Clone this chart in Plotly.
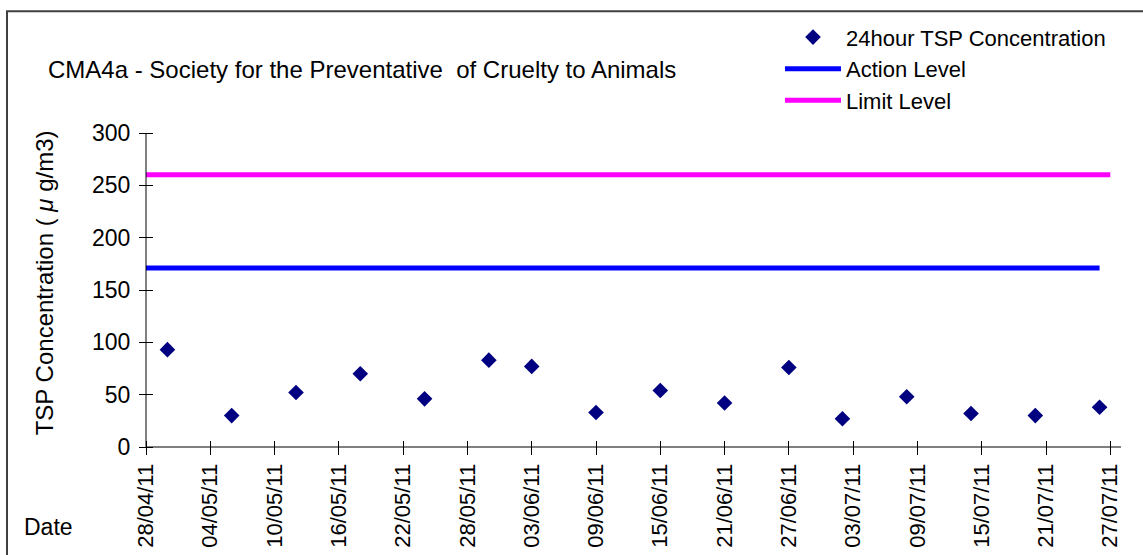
import plotly.graph_objects as go

# ---- data ----
sample_dates = ["2011-04-30", "2011-05-06", "2011-05-12", "2011-05-18", "2011-05-24",
                "2011-05-30", "2011-06-03", "2011-06-09", "2011-06-15", "2011-06-21",
                "2011-06-27", "2011-07-02", "2011-07-08", "2011-07-14", "2011-07-20",
                "2011-07-26"]
tsp_values = [93, 30, 52, 70, 46, 83, 77, 33, 54, 42, 76, 27, 48, 32, 30, 38]

action_dates = ["2011-04-28", "2011-07-26"]
action_level = [171, 171]
limit_dates = ["2011-04-28", "2011-07-27"]
limit_level = [260, 260]

title_text = "CMA4a - Society for the Preventative  of Cruelty to Animals"
y_title = "TSP Concentration ( <i>μ</i> g/m3)"
x_title = "Date"

FONT = "Liberation Sans, Arial, sans-serif"
DAY = 86400000
PLOT_W, PLOT_H = 975, 314
HALF_TICK = 7  # ticks cross the axis line: 7 px on each side

fig = go.Figure()
fig.add_trace(go.Scatter(x=sample_dates, y=tsp_values, mode="markers",
                         name="24hour TSP Concentration",
                         marker=dict(symbol="diamond", size=12, color="#000080")))
fig.add_trace(go.Scatter(x=action_dates, y=action_level, mode="lines",
                         name="Action Level", line=dict(color="#0000FF", width=5)))
fig.add_trace(go.Scatter(x=limit_dates, y=limit_level, mode="lines",
                         name="Limit Level", line=dict(color="#FF00FF", width=5)))

fig.update_layout(
    width=1143, height=555,
    margin=dict(l=146, r=22, t=133, b=108, autoexpand=False),
    paper_bgcolor="white", plot_bgcolor="white",
    font=dict(family=FONT, size=22, color="black"),
    title=dict(text=title_text, x=48 / 1143, xanchor="left", xref="container",
               y=1 - 70 / 555, yanchor="middle", yref="container",
               font=dict(family=FONT, size=24, color="black")),
    # axes drawn slightly inside so their outside ticks cross the axis lines
    xaxis=dict(type="date", range=["2011-04-28", "2011-07-28"], autorange=False,
               tickmode="linear", tick0="2011-04-28", dtick=6 * DAY,
               tickformat="%d/%m/%y", tickangle=-90, tickfont=dict(size=22),
               showgrid=False, zeroline=False, showline=False,
               ticks="outside", ticklen=2 * HALF_TICK, tickcolor="black", tickwidth=1,
               anchor="free", position=HALF_TICK / PLOT_H, automargin=False),
    yaxis=dict(range=[0, 300], autorange=False, tickmode="linear", tick0=0, dtick=50,
               tickfont=dict(size=23), ticklabelstandoff=4,
               showgrid=False, zeroline=False, showline=False,
               ticks="outside", ticklen=2 * HALF_TICK, tickcolor="black", tickwidth=1,
               anchor="free", position=HALF_TICK / PLOT_W, automargin=False),
    legend=dict(x=(780 - 146) / PLOT_W, xanchor="left", xref="paper",
                y=(446.7 - 16) / PLOT_H, yanchor="top", yref="paper",
                bgcolor="rgba(0,0,0,0)", itemwidth=56, tracegroupgap=0,
                font=dict(family=FONT, size=22, color="black")),
    showlegend=True,
    annotations=[
        dict(text=x_title, xref="paper", yref="paper", x=(22 - 146) / PLOT_W,
             y=(446.7 - 527) / PLOT_H, xanchor="left", yanchor="middle",
             showarrow=False, font=dict(family=FONT, size=23, color="black")),
        dict(text=y_title, xref="paper", yref="paper", x=(44 - 146) / PLOT_W,
             y=(446.7 - 283) / PLOT_H, xanchor="center", yanchor="middle",
             textangle=-90, showarrow=False,
             font=dict(family=FONT, size=24, color="black")),
    ],
    shapes=[
        # outer chart border
        dict(type="rect", xref="paper", yref="paper",
             x0=(7 - 146) / PLOT_W, x1=(1160 - 146) / PLOT_W,
             y0=(446.7 - 580) / PLOT_H, y1=(446.7 - 11) / PLOT_H,
             line=dict(color="#404040", width=2), fillcolor="rgba(0,0,0,0)",
             layer="below"),
        # axis lines along the plot-area edges
        dict(type="line", xref="paper", yref="paper", x0=0, x1=0, y0=0, y1=1,
             line=dict(color="black", width=1), layer="above"),
        dict(type="line", xref="paper", yref="paper", x0=0, x1=1, y0=0, y1=0,
             line=dict(color="black", width=1), layer="above"),
    ],
)

fig.write_html("out.html", config={"displayModeBar": False},
               post_script="document.body.style.margin='0';document.body.style.overflow='hidden';")
